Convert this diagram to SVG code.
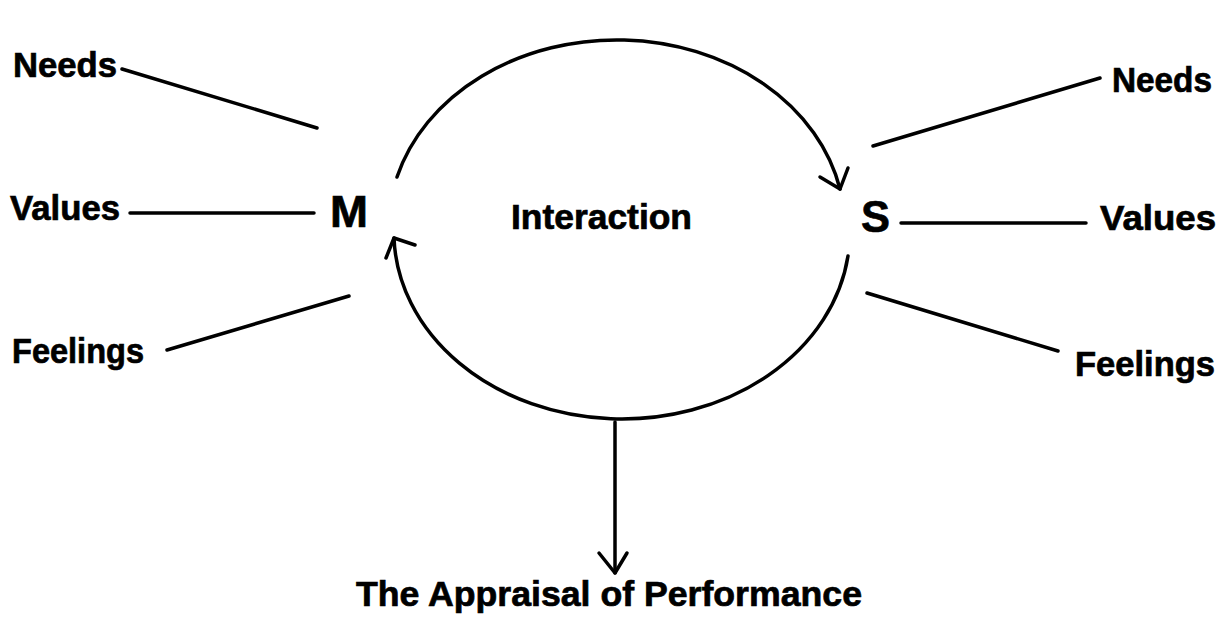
<svg xmlns="http://www.w3.org/2000/svg" width="1225" height="617" viewBox="0 0 1225 617">
<style>
text{font-family:"Liberation Sans",Arial,sans-serif;font-weight:bold;fill:#000;stroke:#000;stroke-width:0.7}
.lbl{font-size:35px}
.big{font-size:45px}
.ln{stroke:#000;stroke-width:3.5;fill:none;stroke-linecap:round;stroke-linejoin:round}
</style>
<rect width="1225" height="617" fill="#fff"/>
<g id="node-M"><text class="big" x="330" y="227" textLength="38" lengthAdjust="spacingAndGlyphs">M</text></g>
<g id="node-S"><text class="big" x="861" y="232" textLength="29" lengthAdjust="spacingAndGlyphs">S</text></g>
<g id="node-interaction"><text class="lbl" x="511" y="229" textLength="181" lengthAdjust="spacingAndGlyphs">Interaction</text></g>
<g id="node-needs-left"><text class="lbl" x="13" y="77" textLength="104" lengthAdjust="spacingAndGlyphs">Needs</text></g>
<g id="node-values-left"><text class="lbl" x="10" y="220" textLength="110" lengthAdjust="spacingAndGlyphs">Values</text></g>
<g id="node-feelings-left"><text class="lbl" x="12" y="363" textLength="132" lengthAdjust="spacingAndGlyphs">Feelings</text></g>
<g id="node-needs-right"><text class="lbl" x="1112" y="92" textLength="100" lengthAdjust="spacingAndGlyphs">Needs</text></g>
<g id="node-values-right"><text class="lbl" x="1100" y="230" textLength="116" lengthAdjust="spacingAndGlyphs">Values</text></g>
<g id="node-feelings-right"><text class="lbl" x="1075" y="376" textLength="140" lengthAdjust="spacingAndGlyphs">Feelings</text></g>
<g id="node-appraisal"><text class="lbl" x="356" y="606" textLength="506" lengthAdjust="spacingAndGlyphs">The Appraisal of Performance</text></g>
<g id="connectors">
<line class="ln" x1="122" y1="69" x2="317" y2="128"/>
<line class="ln" x1="130" y1="213" x2="314" y2="213"/>
<line class="ln" x1="167" y1="350" x2="349" y2="296"/>
<line class="ln" x1="873" y1="146" x2="1100" y2="78"/>
<line class="ln" x1="901" y1="223" x2="1086" y2="223"/>
<line class="ln" x1="867" y1="293" x2="1058" y2="351"/>
<path class="ln" d="M397 177 A228 187 0 0 1 840 189"/>
<polyline class="ln" points="820,177 840,189 848,168"/>
<path class="ln" d="M848 256 A228 187 0 0 1 394 238"/>
<polyline class="ln" points="386,258 394,238 415,245"/>
<line class="ln" x1="615" y1="422" x2="615" y2="573"/>
<polyline class="ln" points="599,553 615,573 627,553"/>
</g>
</svg>
